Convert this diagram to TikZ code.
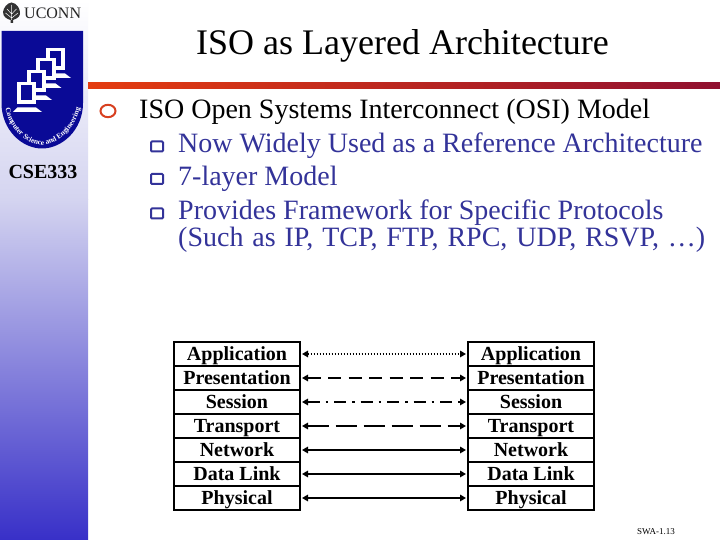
\documentclass[tikz,border=0pt]{standalone}
\usepackage{fontspec}
\setmainfont{Liberation Serif}
\usetikzlibrary{arrows.meta,decorations.text}
\definecolor{shieldblue}{HTML}{0A0A96}
\definecolor{bodyblue}{HTML}{333399}
\definecolor{sidemid}{HTML}{D4D4F0}
\definecolor{sidebot}{HTML}{3830C8}
\definecolor{ruleleft}{HTML}{E43C10}
\definecolor{ruleright}{HTML}{901030}
\definecolor{ringred}{HTML}{D84020}
\tikzset{
  x=1pt,y=1pt,
  layer/.style={draw=black,line width=2pt,minimum width=126pt,minimum height=24pt,inner sep=0pt,
    font=\fontsize{20}{20}\selectfont\bfseries,text=black,anchor=center,text height=14pt,text depth=0pt},
  link/.style={line width=2pt,{Triangle[length=6pt,width=6.5pt]}-{Triangle[length=6pt,width=6.5pt]},shorten >=1pt,shorten <=1pt},
  lone/.style={anchor=base west,inner sep=0pt,font=\fontsize{28}{28}\selectfont,text=black},
  ltwo/.style={anchor=base west,inner sep=0pt,font=\fontsize{28}{28}\selectfont,text=bodyblue},
  sq/.style={draw=bodyblue,line width=2pt,fill=white,rounded corners=1pt},
  mon/.style={fill=white,draw=none},
}
\begin{document}
\begin{tikzpicture}
\useasboundingbox (0,0) rectangle (720,540);
\fill[white] (0,0) rectangle (720,540);
% side band
\shade[top color=sidemid,bottom color=sidebot] (0,0) rectangle (88,340.5);
\shade[top color=white,bottom color=sidemid] (0,340) rectangle (88,540);
% red rule
\shade[left color=ruleleft,right color=ruleright] (88,451) rectangle (720,457);
% UCONN logo
\node[anchor=base west,inner sep=0pt,font=\fontsize{16}{16}\selectfont,text=black!85] (uconn) at (24,521) {UCONN};
\fill[black!80] (11.5,537.5) .. controls (17,537) and (20.5,531) .. (20,526) .. controls (19.5,522) and (15,521) .. (13,520) -- (13,517) -- (10.5,517) -- (10.5,520) .. controls (7,521) and (3,523) .. (3,528) .. controls (3.5,532) and (7,537) .. (11.5,537.5) -- cycle;
\draw[white,line width=.5pt] (11.7,535) -- (11.7,520) (7,531) -- (11.7,526) (16.5,531) -- (11.7,526) (5.5,527) -- (11.7,522) (18,527) -- (11.7,522);
% shield
\fill[shieldblue] (1.5,509) -- (83,509) -- (83,437) .. controls (83,410) and (62,391.5) .. (42,391.5) .. controls (22,391.5) and (1.5,410) .. (1.5,437) -- cycle;
\foreach \dx/\dy in {29/34,19.5/24,10/12,0/0}{
  \begin{scope}[shift={(\dx,\dy)}]
    \fill[mon] (16.5,436) rectangle (36,458);
    \fill[shieldblue] (20.5,439.5) rectangle (32,455);
    \fill[mon] (17.5,432.5) -- (36,432.5) -- (42,428) -- (13,428) -- cycle;
  \end{scope}
}
\path[postaction={decorate},decoration={text along path,text align=center,
  text={|\fontsize{7.4}{7.4}\selectfont\bfseries\color{white}|Computer Science and Engineering}}]
  (4.5,437) .. controls (7,412) and (26,395) .. (42,395) .. controls (58,395) and (77,412) .. (81.5,437);
\node[anchor=base,inner sep=0pt,font=\fontsize{20}{20}\selectfont\bfseries,text=black] (cse) at (43,361) {CSE333};
% title
\node[anchor=base,inner sep=0pt,font=\fontsize{36}{36}\selectfont,text=black] (title) at (402.5,485) {ISO as Layered Architecture};
% bullets
\draw[draw=ringred,line width=2pt,fill=white] (108,429) ellipse (7.5 and 6.2);
\node[lone] (l1) at (139,421) {ISO Open Systems Interconnect (OSI) Model};
\draw[sq] (151,388.5) rectangle (163,398.5);
\node[ltwo] (l2) at (178,387) {Now Widely Used as a Reference Architecture};
\draw[sq] (151,356) rectangle (163,366);
\node[ltwo] (l3) at (178,354) {7-layer Model};
\draw[sq] (151,321.5) rectangle (163,331.5);
\node[ltwo] (l4) at (178,320) {Provides Framework for Specific Protocols};
\node[ltwo] (l5) at (178,293) {\spaceskip=8.9pt (Such as IP, TCP, FTP, RPC, UDP, RSVP, …)};
% layer stacks
\foreach \i/\t in {0/Application,1/Presentation,2/Session,3/Transport,4/Network,5/Data Link,6/Physical}{
  \node[layer] (a\i) at (237,186-24*\i) {\t};
  \node[layer] (b\i) at (531,186-24*\i) {\t};
}
\draw[link,dash pattern=on 1.5pt off 1.5pt] (a0) -- (b0);
\draw[link,dash pattern=on 13pt off 7.5pt] (a1) -- (b1);
\draw[link,dash pattern=on 12pt off 6pt on 2.5pt off 6pt] (a2) -- (b2);
\draw[link,dash pattern=on 21pt off 7pt] (a3) -- (b3);
\draw[link] (a4) -- (b4);
\draw[link] (a5) -- (b5);
\draw[link] (a6) -- (b6);
\node[anchor=base west,inner sep=0pt,font=\fontsize{9}{9}\selectfont,text=black] (swa) at (637,5.5) {SWA-1.13};
\end{tikzpicture}
\end{document}
